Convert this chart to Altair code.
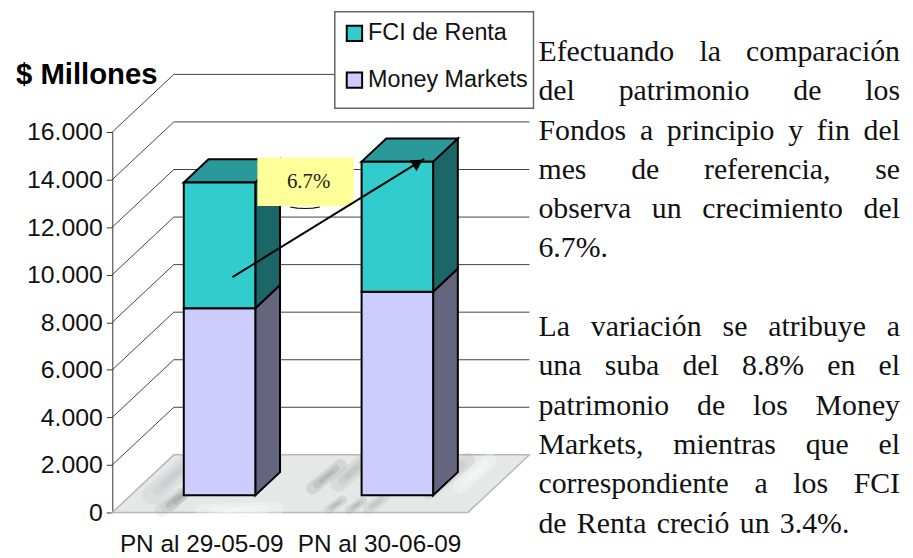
import math
import altair as alt
import pandas as pd

# ---------- data ----------
CATEGORIES = ["PN al 29-05-09", "PN al 30-06-09"]
MONEY_MARKETS = [7866, 8560]
FCI_RENTA = [5292, 5472]
Y_TICKS = [0, 2000, 4000, 6000, 8000, 10000, 12000, 14000, 16000]
SERIES = ["FCI de Renta", "Money Markets"]
Y_TITLE = "$ Millones"
ARROW_CAT = [0.676, 1.754]
ARROW_VAL = [9900, 14870]
NOTE_BOX_CAT = [0.816, 1.358]
NOTE_BOX_VAL = [12890, 14930]
NOTE_TEXT = "6.7%"
PARAGRAPHS = [
    ["Efectuando la comparación", "del patrimonio de los", "Fondos a principio y fin del",
     "mes de referencia, se", "observa un crecimiento del", "6.7%."],
    ["La variación se atribuye a", "una suba del 8.8% en el", "patrimonio de los Money",
     "Markets, mientras que el", "correspondiente a los FCI", "de Renta creció un 3.4%."],
]
# floor veining: (cat0, depth0, cat1, depth1, grey, opacity, width)
STREAKS = [
    (0.29, 0.12, 0.29, 0.55, "#808282", 0.30, 6),
    (0.26, 0.05, 0.28, 0.30, "#8e9090", 0.22, 8),
    (0.12, 0.30, 0.13, 0.90, "#a0a2a2", 0.22, 11),
    (0.98, 0.42, 1.00, 0.82, "#808282", 0.30, 7),
    (1.10, 0.50, 1.11, 0.90, "#909292", 0.24, 9),
    (1.20, 0.05, 1.22, 0.22, "#808282", 0.28, 5),
    (1.32, 0.04, 1.34, 0.20, "#808282", 0.28, 5),
    (1.42, 0.06, 1.44, 0.26, "#8e9090", 0.24, 6),
    (1.66, 0.35, 1.68, 0.92, "#909292", 0.26, 8),
    (0.50, 0.02, 0.90, 0.06, "#fbfbfb", 0.55, 8),
    (1.80, 0.45, 1.81, 0.90, "#fbfbfb", 0.55, 8),
]

# ---------- geometry ----------
PW, PH = 358, 383
X_MAX, Y_MAX = 2, 16000
DEPTH_X, DEPTH_V = 0.346, 2423
BAR_D0, BAR_D1 = 0.298, 0.70
BAR_HALF = 0.2011
BODY_SIZE = 30
SANS = "Liberation Sans"
SERIF = "Liberation Serif"

C_FCI = ("#33CCCC", "#299999", "#1B6666")
C_MM = ("#CCCCFF", "#CCCCFF", "#656580")

xs = alt.Scale(domain=[0, X_MAX], nice=False, zero=False)
ys = alt.Scale(domain=[0, Y_MAX], nice=False, zero=False)
X = lambda f: alt.X(f + ":Q", scale=xs, title=None)
Y = lambda f: alt.Y(f + ":Q", scale=ys, title=None, stack=None)

def px_x(page):
    return (page - 111) / (PW / X_MAX)

def px_y(page):
    return (514 - page) / (PH / Y_MAX)

def proj(cat, val, d):
    return cat + d * DEPTH_X, val + d * DEPTH_V

layers = []

# axes carrier
cat_expr = "datum.value < 1 ? '%s' : '%s'" % tuple(CATEGORIES)
axes = alt.Chart(pd.DataFrame({"x": [0.0], "y": [0.0]})).mark_point(opacity=0).encode(
    x=alt.X("x:Q", scale=xs, title=None, axis=alt.Axis(
        values=[0.5, 1.5], labelExpr=cat_expr, ticks=False, domain=False, grid=False,
        labelFont=SANS, labelFontSize=24.5, labelColor="#111", labelPadding=20,
        labelFlush=False, labelOverlap=False)),
    y=alt.Y("y:Q", scale=ys, axis=alt.Axis(
        values=Y_TICKS, labelExpr="replace(format(datum.value, ','), ',', '.')",
        grid=False, domain=True, domainColor="#333", domainWidth=1, tickColor="#333",
        tickSize=6, labelFont=SANS, labelFontSize=25, labelColor="#111", labelPadding=4)),
)
layers.append(axes)

# floor
fl = []
for d in (0, 1):
    x0, y0 = proj(0, 0, d)
    x1, _ = proj(X_MAX, 0, d)
    fl.append({"x": x0, "x2": x1, "y": y0})
layers.append(alt.Chart(pd.DataFrame(fl)).mark_area(
    orient="horizontal", fill="#e6e7e7", stroke="#b8b8b8", strokeWidth=1.5
).encode(x=X("x"), x2="x2:Q", y=Y("y")))

# floor veins: wide faint stroke, narrower and shorter strokes on top, for a soft taper
for c0, d0, c1, d1, col, op, w in STREAKS:
    a = proj(c0, 0, d0)
    b = proj(c1, 0, d1)
    for width_f, trim in ((1.8, 0.0), (1.0, 0.15), (0.5, 0.3)):
        ax = a[0] + (b[0] - a[0]) * trim
        ay = a[1] + (b[1] - a[1]) * trim
        bx = b[0] - (b[0] - a[0]) * trim
        by = b[1] - (b[1] - a[1]) * trim
        vein = pd.DataFrame({"x": [ax, bx], "y": [ay, by], "o": [0, 1]})
        layers.append(alt.Chart(vein).mark_line(
            color=col, opacity=op * 0.6, strokeWidth=w * width_f, strokeCap="round"
        ).encode(x=X("x"), y=Y("y"), order="o:Q"))

# grid lines: side wall and back wall
for v in Y_TICKS[1:]:
    pts = [proj(0, v, 0), proj(0, v, 1), proj(X_MAX, v, 1)]
    layers.append(alt.Chart(pd.DataFrame({"x": [p[0] for p in pts], "y": [p[1] for p in pts], "o": [0, 1, 2]})).mark_line(
        color="#444", strokeWidth=1
    ).encode(x=X("x"), y=Y("y"), order="o:Q"))

# legend box
lbox = pd.DataFrame({"x": [px_x(335), px_x(535)], "y": [px_y(107)] * 2, "y2": [px_y(10)] * 2})
layers.append(alt.Chart(lbox).mark_area(orient="vertical", fill="#fff", stroke="#666", strokeWidth=1.5)
              .encode(x=X("x"), y=Y("y"), y2="y2:Q"))

# bars
front_rows = []
for i in range(len(CATEGORIES)):
    cx = i + 0.5
    xl, xr = cx - BAR_HALF, cx + BAR_HALF
    stacks = [("Money Markets", 0, MONEY_MARKETS[i], C_MM),
              ("FCI de Renta", MONEY_MARKETS[i], MONEY_MARKETS[i] + FCI_RENTA[i], C_FCI)]
    for name, lo, hi, cols in stacks:
        a0, y_lo0 = proj(xr, lo, BAR_D0)
        a1, y_lo1 = proj(xr, lo, BAR_D1)
        _, y_hi0 = proj(xr, hi, BAR_D0)
        _, y_hi1 = proj(xr, hi, BAR_D1)
        side = pd.DataFrame({"x": [a0, a1], "y": [y_lo0, y_lo1], "y2": [y_hi0, y_hi1]})
        layers.append(alt.Chart(side).mark_area(orient="vertical", fill=cols[2], stroke="#000", strokeWidth=2)
                      .encode(x=X("x"), y=Y("y"), y2="y2:Q"))
        if name == "FCI de Renta":
            b0, ty0 = proj(xl, hi, BAR_D0)
            b1, ty1 = proj(xl, hi, BAR_D1)
            top = pd.DataFrame({"x": [b0, b1], "x2": [a0, a1], "y": [ty0, ty1]})
            layers.append(alt.Chart(top).mark_area(orient="horizontal", fill=cols[1], stroke="#000", strokeWidth=2)
                          .encode(x=X("x"), x2="x2:Q", y=Y("y")))
        fx0, fy0 = proj(xl, lo, BAR_D0)
        fx1, fy1 = proj(xl, hi, BAR_D0)
        for xv in (fx0, a0):
            front_rows.append({"series": name, "face": f"{i}-{name}", "x": xv, "y": fy0, "y2": fy1})

layers.append(alt.Chart(pd.DataFrame(front_rows)).mark_area(
    orient="vertical", stroke="#000", strokeWidth=2
).encode(
    x=X("x"), y=Y("y"), y2="y2:Q", detail="face:N",
    color=alt.Color("series:N", scale=alt.Scale(domain=SERIES, range=[C_FCI[0], C_MM[0]]),
                    legend=alt.Legend(
                        title=None, orient="none", legendX=232, legendY=-111,
                        padding=0,
                        labelFont=SANS, labelFontSize=23.5, labelColor="#111", labelLimit=300,
                        labelOffset=2, symbolType="square", symbolSize=240, symbolStrokeColor="#000",
                        symbolStrokeWidth=2, rowPadding=22, symbolOpacity=1)),
))

# note: crescent, box, label
cres = pd.DataFrame({"x": [px_x(p) for p in (290, 297, 305, 313, 320)],
                     "y": [px_y(p) for p in (206.5, 207.6, 208.0, 207.6, 206.5)], "o": range(5)})
layers.append(alt.Chart(cres).mark_line(color="#111", strokeWidth=1.2).encode(x=X("x"), y=Y("y"), order="o:Q"))
box = pd.DataFrame({"x": [NOTE_BOX_CAT[0], NOTE_BOX_CAT[1]], "y": [NOTE_BOX_VAL[0]] * 2, "y2": [NOTE_BOX_VAL[1]] * 2})
layers.append(alt.Chart(box).mark_area(orient="vertical", fill="#FFFF99").encode(x=X("x"), y=Y("y"), y2="y2:Q"))
layers.append(alt.Chart(pd.DataFrame({"x": [sum(NOTE_BOX_CAT) / 2 + 0.017], "y": [sum(NOTE_BOX_VAL) / 2], "t": [NOTE_TEXT]})).mark_text(
    font=SERIF, fontSize=21, color="#222", baseline="middle", align="center"
).encode(x=X("x"), y=Y("y"), text="t:N"))

# arrow
layers.append(alt.Chart(pd.DataFrame({"x": ARROW_CAT, "y": ARROW_VAL, "o": [0, 1]})).mark_line(
    color="#000", strokeWidth=2
).encode(x=X("x"), y=Y("y"), order="o:Q"))
ang = math.degrees(math.atan2((ARROW_CAT[1] - ARROW_CAT[0]) * PW / X_MAX, (ARROW_VAL[1] - ARROW_VAL[0]) * PH / Y_MAX))
head_x = ARROW_CAT[1] - 0.035
head_y = ARROW_VAL[1] - (ARROW_VAL[1] - ARROW_VAL[0]) / (ARROW_CAT[1] - ARROW_CAT[0]) * 0.035
layers.append(alt.Chart(pd.DataFrame({"x": [head_x], "y": [head_y]})).mark_point(
    shape="triangle-up", filled=True, size=170, angle=ang, color="#000", opacity=1
).encode(x=X("x"), y=Y("y")))

# y title
layers.append(alt.Chart(pd.DataFrame({"x": [px_x(14)], "y": [px_y(83)], "t": [Y_TITLE]})).mark_text(
    font=SANS, fontSize=29.5, fontWeight="bold", color="#000", align="left", baseline="alphabetic"
).encode(x=X("x"), y=Y("y"), text="t:N"))

# body text, justified
WIDTHS = dict(zip("abcdefghijklmnopqrstuvwxyz",
                  [.444, .5, .444, .5, .444, .333, .5, .5, .278, .278, .5, .278, .778, .5, .5, .5, .5, .333, .389, .278, .5, .5, .722, .5, .5, .444]))
WIDTHS.update({"á": .444, "é": .444, "í": .278, "ó": .5, "ú": .5, "E": .611, "F": .556, "L": .611, "M": .889,
               "R": .667, "C": .667, "I": .333, ".": .25, ",": .25, "%": .833, " ": .25})

def word_w(w):
    return sum(WIDTHS.get(c, .5) for c in w) * BODY_SIZE

LEFT, RIGHT, LAST_RIGHT = 540, 904, 853
rows = []
for para, base in zip(PARAGRAPHS, (59.5, 336.5)):
    for li, line in enumerate(para):
        yb = base + li * 39.55
        words = line.split(" ")
        if len(words) == 1:
            rows.append({"x": px_x(LEFT), "y": px_y(yb), "t": line})
            continue
        right = LAST_RIGHT if li == len(para) - 1 else RIGHT
        gap = (right - LEFT - sum(word_w(w) for w in words)) / (len(words) - 1)
        cur = LEFT
        for w in words:
            rows.append({"x": px_x(cur), "y": px_y(yb), "t": w})
            cur += word_w(w) + gap
layers.append(alt.Chart(pd.DataFrame(rows)).mark_text(
    font=SERIF, fontSize=BODY_SIZE, color="#111", align="left", baseline="alphabetic"
).encode(x=X("x"), y=Y("y"), text="t:N"))

chart = alt.layer(*layers).properties(
    width=PW, height=PH, autosize="none",
    padding={"left": 105, "top": 123, "right": 440, "bottom": 44},
    background="#ffffff",
).configure_view(stroke=None)

chart.save("out.html", embed_options={"renderer": "svg", "actions": False})
